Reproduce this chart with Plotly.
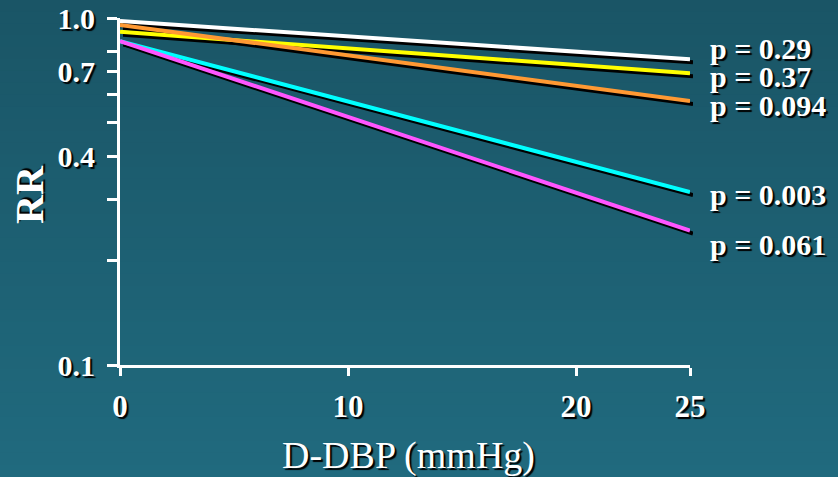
import math
import plotly.graph_objects as go

# ---- data ----
x_vals = [0, 25]
series_names = ["white", "yellow", "orange", "cyan", "magenta"]
rr_white = [0.98, 0.76]
rr_yellow = [0.913, 0.693]
rr_orange = [0.955, 0.576]
rr_cyan = [0.858, 0.315]
rr_magenta = [0.858, 0.244]
p_labels = ["p = 0.29", "p = 0.37", "p = 0.094", "p = 0.003", "p = 0.061"]
p_label_y = [0.818, 0.68, 0.558, 0.309, 0.222]
y_tickvals = [0.1, 0.2, 0.3, 0.4, 0.5, 0.6, 0.7, 0.8, 1.0]
y_ticktext = ["0.1", "", "", "0.4", "", "", "0.7", "", "1.0"]
x_tickvals = [0, 10, 20, 25]
x_ticktext = ["0", "10", "20", "25"]

series = [rr_white, rr_yellow, rr_orange, rr_cyan, rr_magenta]
colors = ["#ffffff", "#ffff00", "#ff9933", "#00ffff", "#ff55ff"]

W, H = 838, 477
L, T = 120, 18
PW, PH = 573, 350
R = W - L - PW
B = H - T - PH
S = 3
dx, dy = S / PW, S / PH

SERIF = "Liberation Serif, Times New Roman, serif"
SHADOW = "2px 2px 1px #000000"

fig = go.Figure()

# shadows (subplot 1, offset)
for vals in series:
    fig.add_trace(go.Scatter(x=x_vals, y=vals, mode="lines",
                             line=dict(color="#000000", width=4),
                             xaxis="x", yaxis="y", showlegend=False, hoverinfo="skip"))
# coloured lines (subplot 2, main axes)
for vals, c, n in zip(series, colors, series_names):
    fig.add_trace(go.Scatter(x=x_vals, y=vals, mode="lines", name=n,
                             line=dict(color=c, width=4),
                             xaxis="x2", yaxis="y2", showlegend=False))

# background gradient
shapes = []
nb = 40
top = (0x1a, 0x55, 0x66)
bot = (0x20, 0x6a, 0x7e)
y_lo = -B / PH
y_hi = 1 + T / PH
for i in range(nb):
    f = i / (nb - 1)
    col = tuple(round(top[k] + (bot[k] - top[k]) * f) for k in range(3))
    y1 = y_hi - (y_hi - y_lo) * i / nb
    y0 = y_hi - (y_hi - y_lo) * (i + 1) / nb
    shapes.append(dict(type="rect", xref="paper", yref="paper", layer="below",
                       x0=-L / PW, x1=1 + R / PW, y0=y0 - 0.002, y1=y1 + 0.002,
                       fillcolor="rgb(%d,%d,%d)" % col, line=dict(width=0)))

annotations = []
for txt, yv in zip(p_labels, p_label_y):
    annotations.append(dict(x=25, y=math.log10(yv), xref="x2", yref="y2",
                            text=txt, showarrow=False, xanchor="left", yanchor="middle",
                            xshift=18,
                            font=dict(family=SERIF, size=30, color="white", weight="bold",
                                      shadow=SHADOW)))
annotations.append(dict(x=(30 - L) / PW, y=1 - (195 - T) / PH,
                        xref="paper", yref="paper", text="RR", showarrow=False,
                        textangle=-90, xanchor="center", yanchor="middle",
                        font=dict(family=SERIF, size=40, color="white", weight="bold",
                                  shadow=SHADOW)))
annotations.append(dict(x=(408 - L) / PW, y=-(456 - T - PH) / PH,
                        xref="paper", yref="paper", text="D-DBP (mmHg)", showarrow=False,
                        xanchor="center", yanchor="middle",
                        font=dict(family=SERIF, size=38, color="white", shadow=SHADOW)))

axis_common = dict(showgrid=False, zeroline=False, automargin=False)

fig.update_layout(
    width=W, height=H,
    margin=dict(l=L, r=R, t=T, b=B, pad=0, autoexpand=False),
    paper_bgcolor="#1d5f72",
    plot_bgcolor="rgba(0,0,0,0)",
    shapes=shapes,
    annotations=annotations,
    xaxis=dict(domain=[dx, 1], range=[0, 25], visible=False, **axis_common),
    yaxis=dict(domain=[0, 1 - dy], type="log", range=[-1, 0], visible=False, **axis_common),
    xaxis2=dict(domain=[0, 1 - dx], range=[0, 25], anchor="y2",
                showline=True, linecolor="white", linewidth=3,
                ticks="outside", ticklen=8, tickwidth=3, tickcolor="white",
                tickvals=x_tickvals, ticktext=x_ticktext, ticklabelstandoff=4,
                tickfont=dict(family=SERIF, size=31, color="white", weight="bold",
                              shadow=SHADOW),
                **axis_common),
    yaxis2=dict(domain=[dy, 1], type="log", range=[-1, 0], anchor="x2",
                showline=True, linecolor="white", linewidth=3,
                ticks="outside", ticklen=10, tickwidth=3, tickcolor="white",
                tickvals=y_tickvals, ticktext=y_ticktext, ticklabelstandoff=6,
                tickfont=dict(family=SERIF, size=30, color="white", weight="bold",
                              shadow=SHADOW),
                **axis_common),
)

fig.write_html("out.html", config={"displayModeBar": False},
               post_script="document.body.style.margin='0';document.body.style.overflow='hidden';")
